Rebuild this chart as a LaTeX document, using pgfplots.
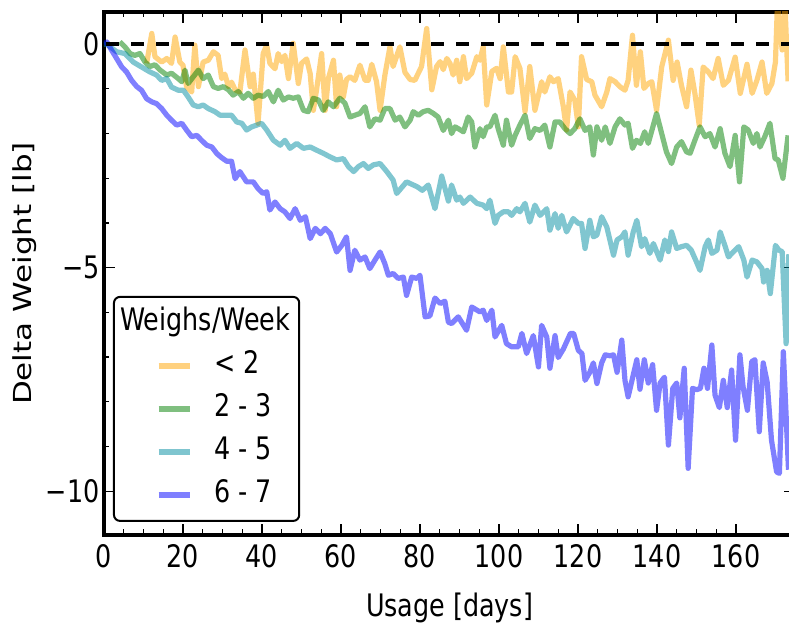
\documentclass[border=0pt]{standalone}
\usepackage{fontspec}
\setmainfont{DejaVu Sans}[FakeStretch=0.82]
\newfontfamily\ylabfont{DejaVu Sans}
\usepackage{graphicx}
\usepackage{pgfplots}
\pgfplotsset{compat=1.18}
\definecolor{cOr}{HTML}{FFA500}
\definecolor{cGr}{HTML}{008000}
\definecolor{cCy}{HTML}{018DA1}
\definecolor{cBl}{HTML}{0000FF}
\newcommand{\fs}{\fontsize{15.5}{18}\selectfont}
\begin{document}
\begin{tikzpicture}
\begin{axis}[
  at={(0,0)}, anchor=south west,
  scale only axis,
  width=345.6pt, height=261.5pt,
  xmin=0, xmax=175, ymin=-10.98, ymax=0.72,
  axis line style={line width=1.75pt},
  xtick={0,20,...,160}, minor x tick num=3,
  ytick={-10,-5,0}, yticklabels={−10,−5,0}, minor y tick num=4,
  tick align=inside,
  major tick length=5.5pt, minor tick length=2.75pt,
  tick style={black, line width=0.6pt},
  /pgf/number format/assume math mode=true,
  tick label style={font=\fs},
  yticklabel style={inner xsep=2pt},
  xticklabel style={yshift=-1pt},
  xlabel={Usage [days]},
  xlabel style={yshift=-6pt},
  ylabel={\scalebox{1}[0.8]{\ylabfont Delta Weight [lb]}},
  ylabel style={yshift=-1pt},
  label style={font=\fs},
  no markers,
  legend cell align=left,
  legend image code/.code={\draw[#1, line width=2.6pt] (16.5pt,0pt) -- (32pt,0pt); \path (0pt,-1pt) (34.5pt,1pt);},
  legend style={at={(rel axis cs:0.013,0.025)}, anchor=south west, draw=black, line width=1pt,
    rounded corners=3pt, fill=white, inner xsep=4.5pt, inner ysep=6pt, font=\fs,
    row sep=7.5pt, column sep=8.5pt,
    nodes={inner sep=0pt, text height=11pt, text depth=3pt}},
]
\addlegendimage{empty legend}
\addlegendentry{\hspace{-47pt}Weighs/Week}

\addplot[cOr, draw opacity=0.5, line width=2.6pt, line join=round] coordinates {
(10.8,-0.43)(12.1,0.24)(12.9,-0.28)(14.6,-0.40)(15.9,-0.32)(17.1,-0.43)(18,0.16)(19.2,-0.40)(20,-0.47)(20.9,-0.95)(22.2,-1.07)(23,-0.02)(23.9,-0.95)(25.1,-0.40)(26.4,-0.36)(27.7,-0.17)(28.9,-0.25)(29.8,-0.77)(30.6,-0.67)(31.5,-0.95)(32.3,-0.85)(33.2,-1.02)(34.4,-1.07)(35.7,-0.13)(37,-0.95)(37.8,-0.67)(39,-1.77)(40.3,-0.21)(41.2,-0.02)(42,-0.43)(43.3,-0.55)
(44.1,-0.21)(45,-0.39)(45.8,-0.25)(46.7,-0.77)(47.9,0.02)(49.2,-0.88)(50,-0.43)(51.3,-0.33)(52.2,-0.66)(53,-1.48)(53.8,-1.03)(55.1,-0.21)(56,-1.48)(56.8,-0.77)(58.1,-0.36)(58.9,-1.40)(59.7,-0.69)(60.6,-1.18)(61.4,-0.79)(62.3,-0.73)(63.5,-0.81)(64.8,-0.47)(66.1,-0.81)(66.9,-0.81)(67.8,-0.45)(69,-0.84)(69.9,-1.48)(71.1,-0.70)(72.4,-0.06)(73.2,-0.50)(74.9,-0.06)(76.2,-0.63)(77.5,-0.79)(78.7,-0.81)(80.4,-0.50)(81.7,0.35)(83,-1.02)(84.2,-0.50)(85.1,-0.39)(85.9,-0.57)(86.8,-0.32)(87.6,-0.43)
(88.4,-0.69)(89.3,-0.36)(90.1,-0.84)(91,-0.28)(91.8,-0.77)(93.1,-0.65)(94.4,-0.28)(95.2,-0.36)(96,-0.06)(96.9,-1.36)(98.2,-0.61)(99.4,-0.54)(100.3,-0.77)(101.1,-0.06)(102.4,-1.07)(103.2,-1.07)(104.1,-0.28)(105.3,-0.54)(106.6,-1.51)(107.8,-0.50)(109.1,-1.48)(109.9,-1.18)(110.8,-0.84)(111.6,-1.07)(112.9,-0.73)(113.8,-0.84)(115,-0.77)(116.3,-1.40)(117.1,-1.92)(118,-1.07)(119.2,-1.25)(120.1,-1.85)(120.9,-0.28)(122.2,-0.79)(123.5,-0.84)(124.3,-1.14)(126,-1.40)(127.3,-1.07)(128.1,-0.77)(129.4,-0.84)(130.6,-0.95)(131.9,-1.03)(132.7,-0.81)(133.8,0.20)(134.8,-0.92)(135.8,-0.17)(136.7,-0.99)(137.8,-0.88)(138.7,-0.84)(139.9,-1.48)(141.2,-0.51)(142.9,0.09)(144.1,-0.81)(145.1,-0.40)(146.2,-0.92)(147.5,-1.40)(148.6,-0.58)(149.6,-1.10)(150.7,-1.81)(151.7,-0.51)(153,-0.62)(154.2,-0.77)(155.5,-0.32)(156.8,-0.92)(158.1,-0.81)(159.8,-0.29)(161.1,-1.10)(162.8,-0.45)(164.1,-1.10)(165.3,-0.81)(166.6,-0.40)(167.8,-1.10)(169.1,-0.88)(170,-0.40)(170.5,0.9)(171.1,0.38)(171.7,-0.13)(172.4,0.9)(173.2,-0.83)
};
\addlegendentry{< 2}

\addplot[cGr, draw opacity=0.5, line width=2.6pt, line join=round] coordinates {
(4,0.05)(5.3,-0.06)(6.6,-0.21)(7.8,-0.25)(9.1,-0.21)(10.4,-0.40)(11.6,-0.50)(12.9,-0.46)(14.2,-0.58)(15.9,-0.69)(17.1,-0.65)(18.8,-0.77)(19.7,-0.84)(20.5,-0.58)(21.3,-0.88)(22.6,-0.73)(23.9,-0.58)(25.1,-0.77)(26.4,-0.69)(27.7,-0.95)(28.9,-0.99)(30.2,-0.95)(31.5,-1.02)(32.7,-1.14)(34,-1.06)(35.3,-1.21)(36.5,-1.10)(37.8,-1.21)(39,-1.14)(40.3,-1.17)(41.6,-1.06)(42.9,-1.29)(44.1,-1.03)(45.4,-1.25)(46.7,-1.18)(47.9,-1.21)(49.2,-1.18)(50.5,-1.48)(51.7,-1.51)(53,-1.21)(54.3,-1.25)(55.5,-1.48)(56.8,-1.29)(58.1,-1.40)(59.7,-1.21)(61,-1.32)(62.3,-1.63)(63.5,-1.59)(64.8,-1.55)(66.1,-1.40)(67.3,-1.85)(68.6,-1.67)(69.9,-1.70)(71.1,-1.44)(72.4,-1.44)(73.7,-1.70)(74.9,-1.63)(76.2,-1.85)(77.5,-1.70)(78.3,-1.51)(79.6,-1.59)(80.8,-1.51)(82.1,-1.48)(83.4,-1.55)(84.6,-1.63)(85.9,-1.93)(87.2,-1.70)(88,-2.00)(88.9,-1.85)(89.7,-1.89)(91,-1.96)(92.2,-1.63)(93.1,-1.74)(93.9,-2.30)(95.2,-1.89)(96,-2.07)(96.9,-1.85)(97.7,-1.85)(99,-1.59)(99.8,-1.89)(101.1,-2.26)(101.9,-1.70)(103.2,-2.26)(104.1,-2.04)(105.3,-1.81)(106.6,-1.59)(107.8,-2.11)(109.1,-1.89)(110.4,-1.93)(111.6,-1.81)(112.9,-2.30)(114.2,-1.74)(115.4,-1.74)(116.7,-1.89)(118,-2.00)(119.2,-1.89)(120.5,-1.67)(121.8,-1.93)(123,-1.85)(123.9,-2.48)(124.8,-1.85)(126,-2.15)(126.9,-1.85)(128.1,-2.22)(129.4,-1.85)(130.6,-1.67)(131.9,-1.81)(132.7,-1.77)(133.8,-2.33)(134.8,-2.15)(135.8,-2.22)(136.9,-1.96)(137.8,-2.22)(139.9,-1.55)(141.2,-2.00)(142.4,-2.41)(143.7,-2.67)(145,-2.30)(146.2,-2.18)(147.5,-2.41)(148.4,-2.44)(149.6,-2.15)(150.9,-1.85)(152.2,-2.07)(153.4,-2.00)(154.7,-2.30)(156,-1.89)(157.2,-2.44)(158.5,-2.74)(159.8,-2.04)(160.9,-3.08)(162,-1.85)(163.1,-1.92)(164.4,-2.22)(165.3,-2.00)(166.1,-2.30)(167.3,-2.07)(168.6,-1.77)(169.9,-2.56)(170.7,-2.59)(171.9,-3.00)(173.2,-2.04)
};
\addlegendentry{2 - 3}

\addplot[cCy, draw opacity=0.5, line width=2.6pt, line join=round] coordinates {
(0,0)(0.7,0.0)(3.2,-0.17)(5.3,-0.21)(7.4,-0.40)(9.5,-0.51)(11.6,-0.62)(13.3,-0.69)(14.6,-0.81)(15.9,-0.77)(17.1,-0.96)(18.8,-1.03)(20.1,-1.03)(21.3,-1.18)(22.6,-1.36)(23.9,-1.40)(25.1,-1.36)(26.4,-1.44)(28.1,-1.51)(29.4,-1.59)(30.6,-1.59)(32.3,-1.59)(33.6,-1.74)(34.9,-1.77)(36.1,-1.92)(37.4,-1.85)(38.7,-1.81)(39.9,-1.77)(41.2,-1.92)(42.9,-2.15)(44.6,-2.26)(45.8,-2.15)(47.1,-2.33)(48.8,-2.22)(50.5,-2.33)(52.2,-2.30)(53.8,-2.37)(55.5,-2.44)(57.2,-2.52)(58.9,-2.59)(60.6,-2.56)(61.9,-2.74)(63.2,-2.85)(64.4,-2.74)(65.7,-2.67)(66.9,-2.78)(68.2,-2.70)(69.9,-2.67)(71.6,-2.85)(73.2,-3.04)(74.1,-3.34)(76.6,-3.08)(79.3,-3.19)(80.6,-3.27)(82.1,-3.15)(83.8,-3.68)(85.5,-2.95)(87.2,-3.51)(88,-3.15)(89.3,-3.49)(90.1,-3.42)(91,-3.56)(92.7,-3.42)(94.4,-3.56)(96,-3.60)(96.9,-3.68)(97.7,-3.49)(99,-4.01)(99.8,-3.83)(101.1,-3.75)(102.4,-3.75)(103.2,-3.83)(104.5,-3.68)(105.3,-3.75)(106.6,-3.56)(107.8,-3.98)(109.1,-3.60)(110.4,-3.83)(112.1,-3.68)(112.9,-4.16)(114.2,-3.79)(115,-4.12)(115.9,-3.83)(117.1,-4.20)(118.8,-3.90)(120.1,-4.01)(120.9,-4.01)(121.8,-4.57)(123,-3.94)(123.9,-4.31)(124.8,-4.27)(126,-3.86)(127.3,-4.09)(129,-4.72)(129.9,-4.38)(131.1,-4.31)(131.9,-4.20)(132.7,-4.72)(134,-4.20)(134.9,-3.94)(136.1,-4.53)(136.9,-4.35)(138.2,-4.68)(139.1,-4.46)(140.8,-4.83)(142,-4.38)(142.9,-4.64)(143.7,-4.20)(145,-4.57)(146.2,-4.53)(147.5,-4.50)(148.7,-4.61)(150,-4.87)(150.9,-5.06)(152.2,-4.53)(153,-4.38)(153.9,-4.68)(155.2,-4.61)(156,-4.20)(157.3,-4.53)(158.1,-4.76)(159.4,-4.64)(160.7,-4.53)(162,-4.83)(162.8,-5.21)(164.1,-4.83)(165.3,-4.87)(166.6,-5.02)(167,-5.32)(167.9,-5.06)(168.7,-5.58)(170,-4.50)(170.9,-4.61)(171.7,-4.64)(172.7,-6.70)(173.4,-4.7)
};
\addlegendentry{4 - 5}

\addplot[cBl, draw opacity=0.5, line width=2.6pt, line join=round] coordinates {
(0,0)(0.7,0.05)(1.9,-0.13)(3.2,-0.32)(4.5,-0.51)(5.7,-0.62)(7,-0.81)(8.3,-0.95)(9.5,-1.03)(10.8,-1.22)(12.1,-1.29)(13.3,-1.33)(14.6,-1.44)(15.9,-1.59)(17.1,-1.70)(18.4,-1.81)(19.7,-1.77)(20.9,-1.92)(22.2,-2.07)(23.5,-2.04)(24.7,-2.15)(26,-2.26)(27.3,-2.30)(28.6,-2.45)(29.8,-2.54)(31.1,-2.62)(32.3,-2.62)(33.2,-3.01)(34.4,-2.85)(36.1,-3.08)(37.8,-3.08)(39,-3.23)(40.3,-3.34)(41.2,-3.30)(42,-3.71)(43.3,-3.53)(44.6,-3.68)(45.8,-3.75)(47.1,-3.90)(48.4,-3.68)(49.7,-3.94)(51,-3.86)(52.2,-4.35)(53.5,-4.12)(54.8,-4.24)(56,-4.12)(57.3,-4.24)(58.9,-4.65)(60.2,-4.50)(61.4,-4.31)(62.3,-5.06)(63.5,-4.61)(64.8,-4.83)(66.1,-4.76)(67.3,-5.02)(68.6,-4.83)(69.9,-4.65)(71.1,-4.91)(72,-5.17)(73.2,-5.13)(74.5,-5.24)(75.8,-5.21)(76.6,-5.62)(77.9,-5.21)(79.2,-5.24)(80,-5.17)(81.3,-6.10)(82.5,-6.08)(83.8,-5.68)(85.1,-5.80)(86.3,-5.75)(87.2,-6.22)(88,-6.25)(89.7,-6.10)(91.8,-6.40)(93.1,-5.88)(95.2,-5.99)(96,-5.95)(96.9,-6.18)(98.2,-5.95)(99,-6.55)(100.7,-6.29)(101.9,-6.70)(103.2,-6.77)(104.9,-6.77)(105.8,-6.47)(107,-6.92)(108.7,-6.52)(110,-7.22)(110.8,-6.29)(112.1,-6.55)(112.9,-7.25)(114.2,-6.52)(115,-7.01)(116.3,-6.82)(118.1,-6.47)(118.9,-6.47)(120.1,-6.85)(121,-6.92)(121.8,-7.52)(123,-7.34)(123.9,-7.13)(124.8,-7.59)(126,-7.13)(126.9,-6.95)(128.1,-6.97)(129,-6.95)(129.9,-7.34)(131.1,-6.62)(131.9,-7.52)(132.7,-7.89)(134.9,-7.06)(135.7,-7.72)(136.8,-7.06)(137.8,-7.58)(138.9,-7.17)(139.9,-8.19)(140.8,-7.58)(141.9,-7.45)(142.9,-8.97)(144,-7.70)(145,-7.58)(145.8,-8.36)(146.9,-7.25)(147.9,-9.49)(149,-7.70)(150,-7.73)(151,-7.70)(151.9,-7.25)(152.8,-7.70)(153.9,-6.73)(154.7,-7.85)(155.8,-8.13)(156.8,-7.52)(157.8,-8.13)(158.9,-7.29)(159.9,-8.86)(161,-6.95)(161.8,-7.66)(162.9,-8.19)(164,-7.10)(164.8,-7.06)(165.9,-8.67)(166.9,-7.13)(167.9,-7.56)(169,-8.86)(170.3,-9.57)(171,-9.60)(172,-6.88)(173.3,-9.52)
};
\addlegendentry{6 - 7}

\addplot[black, line width=2.2pt, dash pattern=on 6.5pt off 6pt, forget plot] coordinates {(0.6,0) (175,0)};
\end{axis}
\pgfresetboundingbox
\path[use as bounding box] (-52pt,-45pt) rectangle (342.5pt,267.5pt);
\end{tikzpicture}
\end{document}
